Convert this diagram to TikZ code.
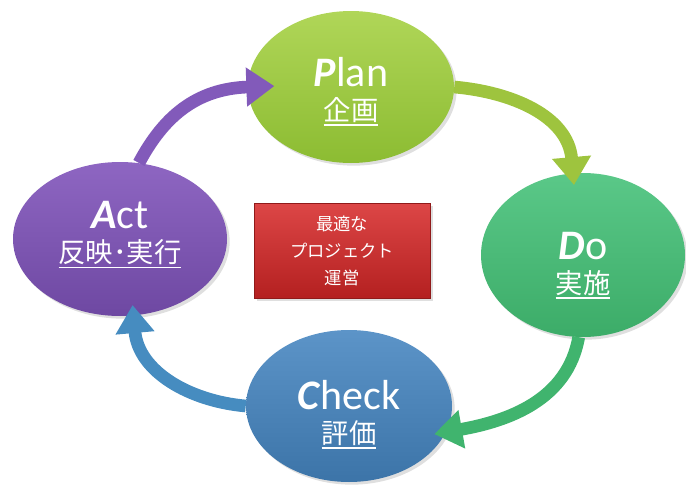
\documentclass[tikz,border=0pt]{standalone}
\usepackage{fontspec}
\setmainfont{Carlito}
\newfontfamily\jpfont{Noto Sans CJK JP}
\usetikzlibrary{arrows.meta,positioning,shapes.geometric,shadows}

\definecolor{plantop}{RGB}{176,214,88}
\definecolor{planbot}{RGB}{140,188,50}
\definecolor{dotop}{RGB}{90,200,136}
\definecolor{dobot}{RGB}{60,172,104}
\definecolor{checktop}{RGB}{92,148,200}
\definecolor{checkbot}{RGB}{60,116,168}
\definecolor{acttop}{RGB}{142,102,194}
\definecolor{actbot}{RGB}{110,72,162}
\definecolor{coretop}{RGB}{220,70,70}
\definecolor{corebot}{RGB}{180,32,32}
\definecolor{arrplan}{RGB}{130,90,186}
\definecolor{arrdo}{RGB}{158,196,62}
\definecolor{arrcheck}{RGB}{64,180,110}
\definecolor{arract}{RGB}{70,140,192}

% underlined Japanese caption
\newcommand{\jpline}[1]{{\setbox0\hbox{#1}%
  \leavevmode\rlap{\raisebox{-4pt}{\rule{\wd0}{1.3pt}}}\box0}}
% #1 top strut, #2 bottom strut, #3 bold letter, #4 rest, #5 caption
\newcommand{\phasetext}[5]{\rule{0pt}{#1}%
  {\fontsize{31.5}{33}\selectfont\textbf{\textit{#3}}#4}\\%
  {\jpfont\fontsize{20.5}{22}\selectfont\jpline{#5}}\rule[-#2]{0pt}{#2}}

\begin{document}
\begin{tikzpicture}[
  x=0.75pt, y=0.75pt,
  every node/.style={text=white},
  phase/.style={ellipse, inner sep=0pt, align=center,
                font=\fontsize{20}{25.5}\selectfont,
                drop shadow={opacity=0.25, shadow xshift=2pt, shadow yshift=-2pt}},
  core/.style={rectangle, draw=corebot!80!black, line width=0.6pt,
               top color=coretop, bottom color=corebot, align=center,
               minimum width=132pt, minimum height=71pt, inner sep=0pt,
               drop shadow={opacity=0.25, shadow xshift=2pt, shadow yshift=-2pt}},
  cyc/.style={line width=9.5pt, -{Triangle[length=21pt, width=28pt]}},
]
  \useasboundingbox (0,0) rectangle (686,-496);

  % the four phases
  \node[phase, top color=plantop, bottom color=planbot,
        minimum width=154.5pt, minimum height=114pt] (plan) at (351,-87)
    {\phasetext{29pt}{0pt}{P}{lan}{企画}};
  \node[phase, top color=dotop, bottom color=dobot,
        minimum width=153pt, minimum height=123pt] (do) at (583,-255)
    {\phasetext{36pt}{0pt}{D}{o}{実施}};
  \node[phase, top color=checktop, bottom color=checkbot,
        minimum width=154.5pt, minimum height=114pt] (check) at (349,-406)
    {\phasetext{35pt}{0pt}{C}{heck}{評価}};
  \node[phase, top color=acttop, bottom color=actbot,
        minimum width=160.5pt, minimum height=115.5pt] (act) at (120,-239)
    {\phasetext{0pt}{10pt}{A}{ct}{反映･実行}};

  % centre box
  \node[core, font=\jpfont\fontsize{13}{20.5}\selectfont] (goal) at (342,-251)
    {最適な\\プロジェクト\\運営};

  % cycle arrows
  \draw[cyc, arrplan, shorten >=-20pt] (act.76) to[out=62, in=182] (plan.west);
  \draw[cyc, arrdo, shorten >=-9pt] (plan.east) to[out=-5, in=95] (do.97);
  \draw[cyc, arrcheck, shorten >=-9pt] (do.-93) to[out=-100, in=10] (check.-15);
  \draw[cyc, arract, shorten >=-8pt] (check.west) to[out=175, in=-85] (act.-80);
\end{tikzpicture}
\end{document}
